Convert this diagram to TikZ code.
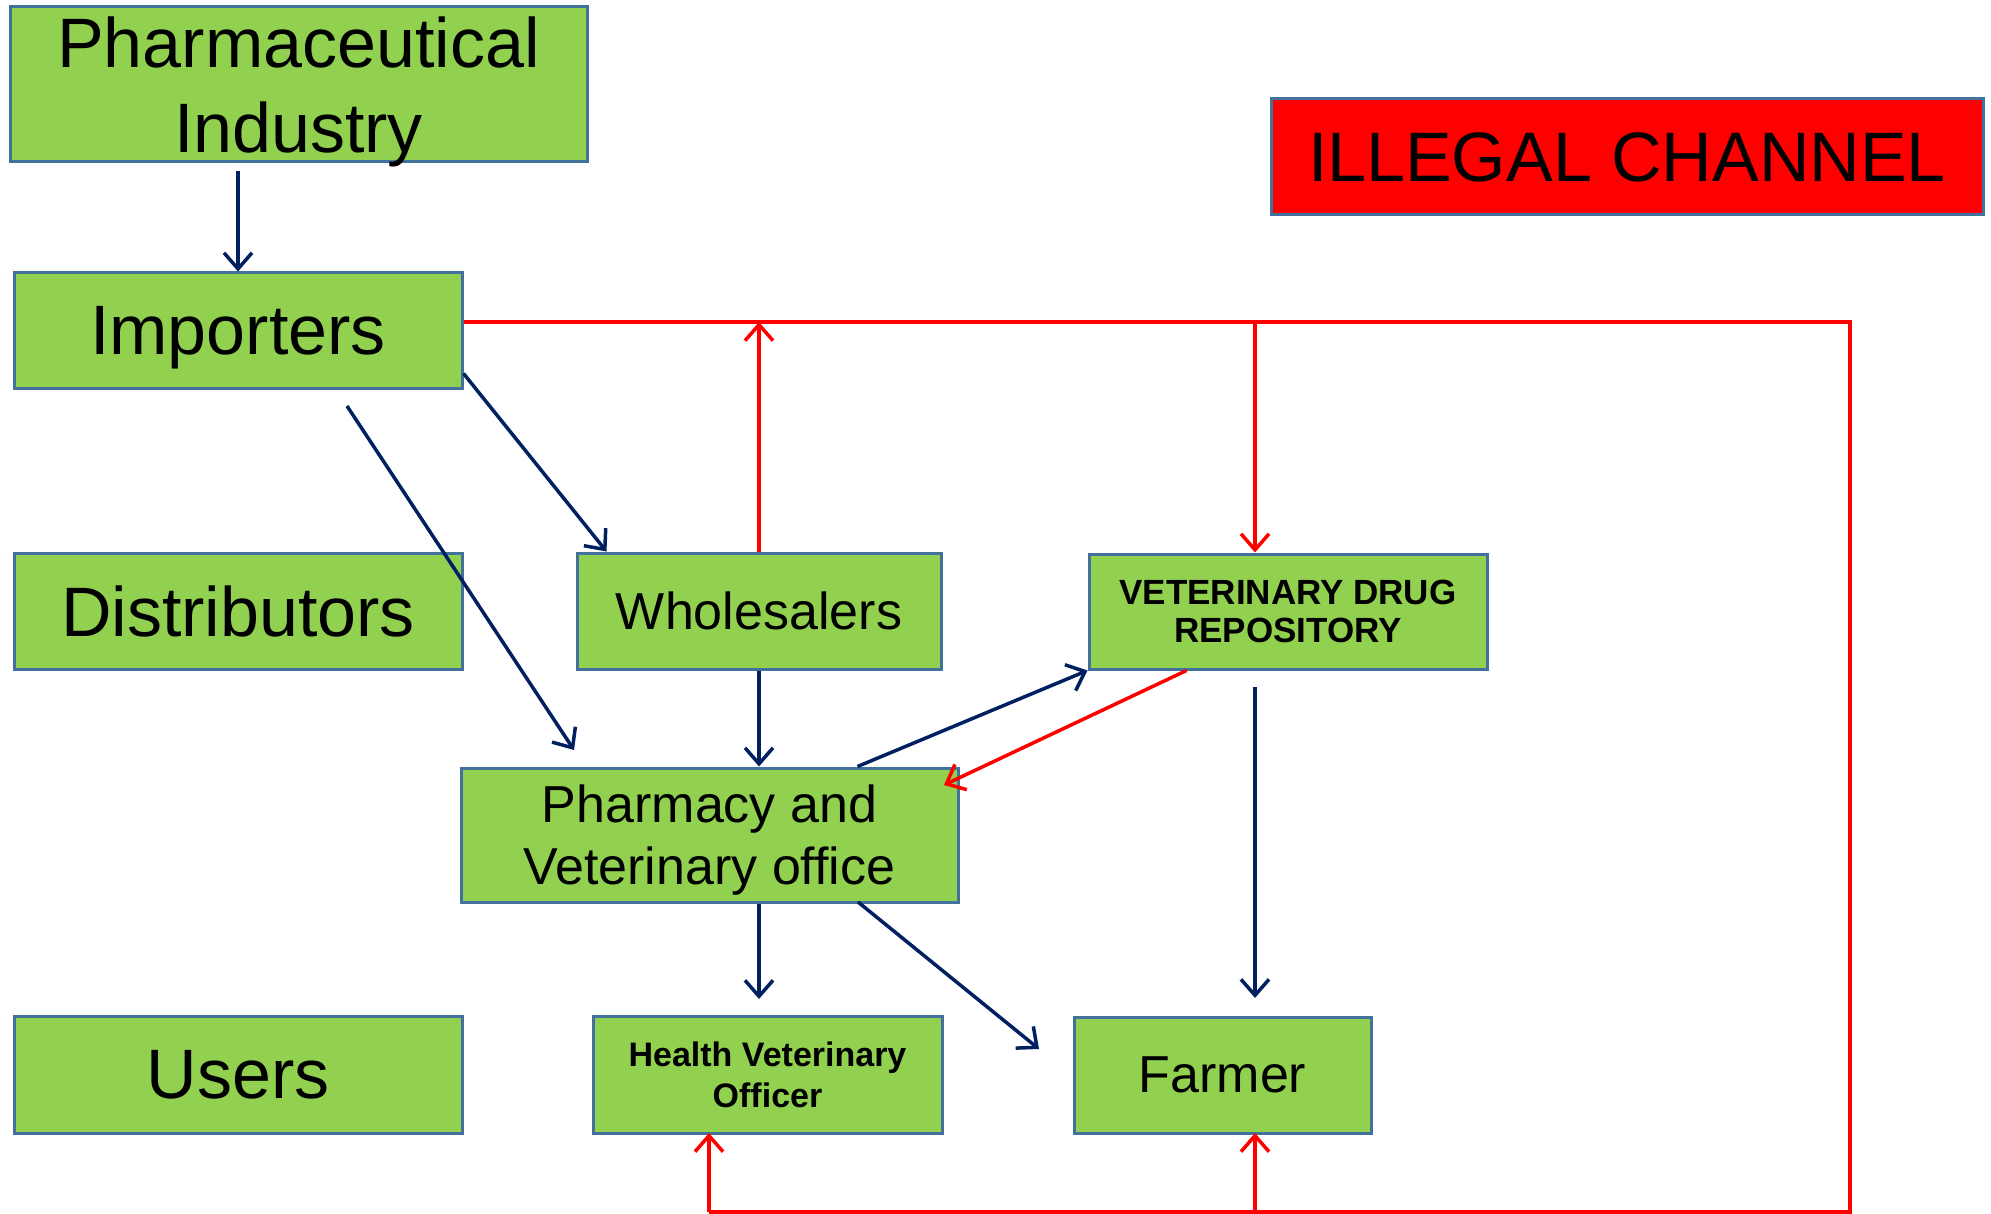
\documentclass[tikz,border=0pt]{standalone}
\usepackage{fontspec}
\setmainfont{Liberation Sans}
\usetikzlibrary{arrows.meta,calc}
\definecolor{boxgreen}{HTML}{92D050}
\definecolor{boxedge}{HTML}{41719C}
\definecolor{navyline}{HTML}{002060}
\definecolor{alarmred}{HTML}{FF0000}

\tikzset{
  box/.style={draw=boxedge, fill=boxgreen, line width=3pt, align=center, inner sep=0pt, text depth=0pt},
  legal/.style={navyline, line width=3.5pt, -{Straight Barb[length=16pt,width=28pt]}},
  illegal/.style={alarmred, line width=3.5pt, -{Straight Barb[length=16pt,width=28pt]}},
  bigtext/.style={font=\fontsize{70}{84}\selectfont},
  midtext/.style={font=\fontsize{52}{62}\selectfont},
}

\begin{document}
\begin{tikzpicture}[x=1pt,y=-1pt]
\useasboundingbox (0,0) rectangle (1991,1214);

\node[box, minimum width=577pt, minimum height=155pt, font=\fontsize{70}{85}\selectfont] (pharma) at (298.5,84.5) {Pharmaceutical\\Industry};
\node[box, bigtext, minimum width=712pt, minimum height=116pt, fill=alarmred] (illegal) at (1627,157) {ILLEGAL CHANNEL};

\node[box, bigtext, minimum width=448pt, minimum height=115pt] (importers) at (238,330.5) {Importers};
\node[box, bigtext, minimum width=448pt, minimum height=116pt] (distributors) at (238,611) {Distributors};
\node[box, bigtext, minimum width=448pt, minimum height=117pt] (users) at (238,1074.5) {Users};

\node[box, midtext, minimum width=364pt, minimum height=116pt] (wholesalers) at (759,611) {Wholesalers};
\node[box, minimum width=398pt, minimum height=115pt, font=\fontsize{35}{38}\selectfont\bfseries] (vdr) at (1288,611.5) {VETERINARY DRUG\\REPOSITORY};
\node[box, midtext, minimum width=497pt, minimum height=134pt] (pharmacy) at (709.5,835) {Pharmacy and\\Veterinary office};
\node[box, minimum width=349pt, minimum height=117pt, font=\fontsize{34}{41}\selectfont\bfseries] (hvo) at (767.5,1074.5) {Health Veterinary\\Officer};
\node[box, midtext, minimum width=297pt, minimum height=116pt] (farmer) at (1222.5,1075) {Farmer};

% legal channel
\coordinate (q1) at (238,171);
\coordinate (q2) at (347,406);
\coordinate (q3) at (574,750);
\coordinate (q4) at (1255,687);
\coordinate (q5) at (1255,998);
\coordinate (q6) at (759,999);
\coordinate (q7) at (858,902);
\coordinate (q8) at (1039,1049);

\draw[legal] (q1) -- (importers.north);
\draw[legal] ($(importers.south east)+(0,-16)$) -- ($(wholesalers.north west)+(31,0)$);
\draw[legal] (q2) -- (q3);
\draw[legal] (wholesalers.south) -- (wholesalers.south |- pharmacy.north);
\draw[legal] ($(pharmacy.north west)+(398,0)$) -- (vdr.south west);
\draw[legal] (q4) -- (q5);
\draw[legal] (wholesalers.south |- pharmacy.south) -- (q6);
\draw[legal] (q7) -- (q8);

% illegal channel
\coordinate (ctop) at (1850,322);
\coordinate (cbot) at (1850,1212);
\coordinate (hvoin) at (709,1133);
\coordinate (farmin) at (1255,1133);

\draw[alarmred, line width=3.5pt] (importers.east |- ctop) -- (ctop) -- (cbot) -- (cbot -| hvoin);
\draw[illegal] (wholesalers.north) -- (wholesalers.north |- ctop);
\draw[illegal] (ctop -| farmin) -- (vdr.north -| farmin);
\draw[illegal] ($(vdr.south west)+(99,0)$) -- (944,785);
\draw[illegal] (cbot -| hvoin) -- (hvoin);
\draw[illegal] (cbot -| farmin) -- (farmin);

\end{tikzpicture}
\end{document}
